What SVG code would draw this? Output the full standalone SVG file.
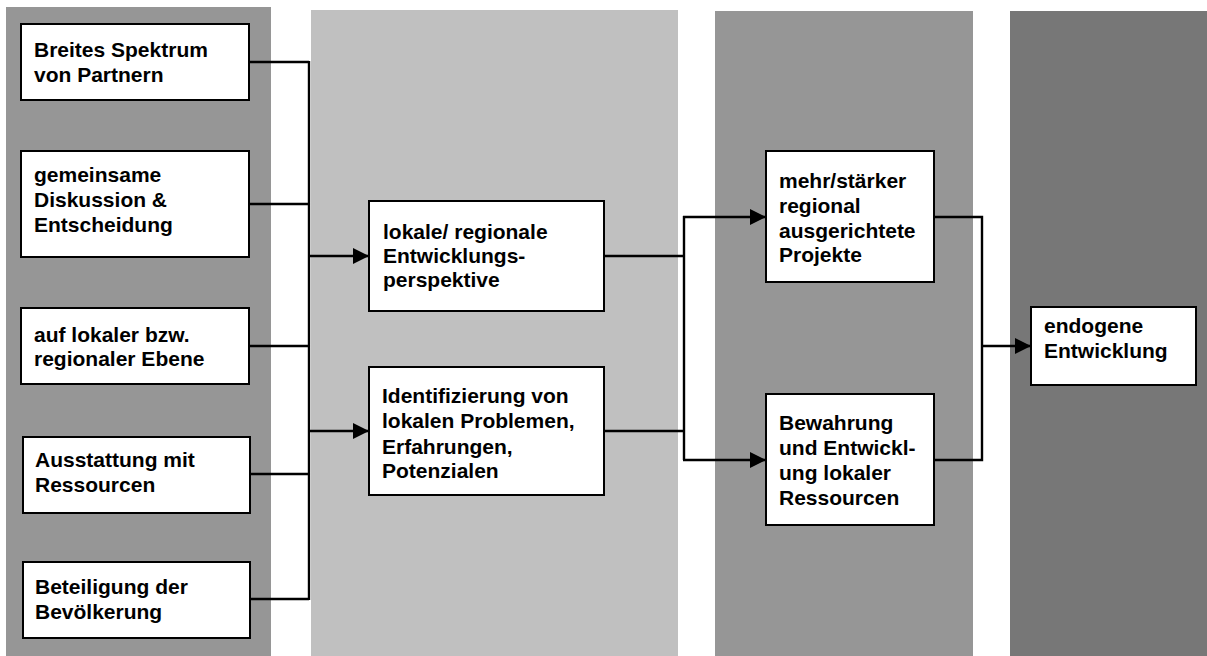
<svg xmlns="http://www.w3.org/2000/svg" width="1207" height="656" viewBox="0 0 1207 656">
  <style>
    .box { fill: #ffffff; stroke: #000000; stroke-width: 2; }
    .lbl { font-family: "Liberation Sans", Arial, sans-serif; font-weight: bold; font-size: 21px; fill: #000000; }
    .wire { fill: none; stroke: #000000; stroke-width: 2.4; }
  </style>
  <defs>
    <marker id="arrow" markerUnits="userSpaceOnUse" markerWidth="17" markerHeight="17" refX="16" refY="8" orient="auto">
      <path d="M0,0 L16,8 L0,16 Z" fill="#000000"/>
    </marker>
  </defs>

  <!-- column backgrounds -->
  <g id="columns">
    <rect x="6" y="7" width="265" height="649" fill="#969696"/>
    <rect x="311" y="10" width="367" height="646" fill="#c0c0c0"/>
    <rect x="715" y="11" width="258" height="645" fill="#969696"/>
    <rect x="1010" y="11" width="197" height="645" fill="#777777"/>
  </g>

  <!-- connectors -->
  <g id="connectors">
    <path class="wire" d="M249,62 H309 M249,204 H309 M249,346 H309 M250,474 H309 M250,599 H309 M309,61 V600"/>
    <path class="wire" d="M309,256 H369" marker-end="url(#arrow)"/>
    <path class="wire" d="M309,431 H369" marker-end="url(#arrow)"/>
    <path class="wire" d="M604,256 H684 M604,431 H684 M684,216 V460"/>
    <path class="wire" d="M683,217 H766" marker-end="url(#arrow)"/>
    <path class="wire" d="M683,460 H766" marker-end="url(#arrow)"/>
    <path class="wire" d="M934,217 H982 V460 H934"/>
    <path class="wire" d="M982,346 H1031" marker-end="url(#arrow)"/>
  </g>

  <g id="n-partner">
    <rect class="box" x="21" y="24" width="228" height="76"/>
    <text class="lbl" x="34" y="57">Breites Spektrum</text>
    <text class="lbl" x="34" y="82">von Partnern</text>
  </g>

  <g id="n-diskussion">
    <rect class="box" x="21" y="151" width="228" height="106"/>
    <text class="lbl" x="34" y="182">gemeinsame</text>
    <text class="lbl" x="34" y="207">Diskussion &amp;</text>
    <text class="lbl" x="34" y="232">Entscheidung</text>
  </g>

  <g id="n-ebene">
    <rect class="box" x="21" y="308" width="228" height="76"/>
    <text class="lbl" x="34" y="342">auf lokaler bzw.</text>
    <text class="lbl" x="34" y="366">regionaler Ebene</text>
  </g>

  <g id="n-ressourcen">
    <rect class="box" x="23" y="437" width="227" height="76"/>
    <text class="lbl" x="35" y="467">Ausstattung mit</text>
    <text class="lbl" x="35" y="492">Ressourcen</text>
  </g>

  <g id="n-beteiligung">
    <rect class="box" x="23" y="562" width="227" height="76"/>
    <text class="lbl" x="35" y="594">Beteiligung der</text>
    <text class="lbl" x="35" y="619">Bevölkerung</text>
  </g>

  <g id="n-perspektive">
    <rect class="box" x="369" y="201" width="235" height="110"/>
    <text class="lbl" x="383" y="239">lokale/ regionale</text>
    <text class="lbl" x="383" y="263">Entwicklungs-</text>
    <text class="lbl" x="383" y="287">perspektive</text>
  </g>

  <g id="n-identifizierung">
    <rect class="box" x="369" y="367" width="235" height="128"/>
    <text class="lbl" x="382" y="403">Identifizierung von</text>
    <text class="lbl" x="382" y="428">lokalen Problemen,</text>
    <text class="lbl" x="382" y="454">Erfahrungen,</text>
    <text class="lbl" x="382" y="478">Potenzialen</text>
  </g>

  <g id="n-projekte">
    <rect class="box" x="766" y="151" width="168" height="131"/>
    <text class="lbl" x="779" y="188">mehr/stärker</text>
    <text class="lbl" x="779" y="213">regional</text>
    <text class="lbl" x="779" y="238">ausgerichtete</text>
    <text class="lbl" x="779" y="262">Projekte</text>
  </g>

  <g id="n-bewahrung">
    <rect class="box" x="766" y="394" width="168" height="131"/>
    <text class="lbl" x="779" y="430">Bewahrung</text>
    <text class="lbl" x="779" y="455">und Entwickl-</text>
    <text class="lbl" x="779" y="480">ung lokaler</text>
    <text class="lbl" x="779" y="505">Ressourcen</text>
  </g>

  <g id="n-endogen">
    <rect class="box" x="1031" y="307" width="165" height="78"/>
    <text class="lbl" x="1044" y="333">endogene</text>
    <text class="lbl" x="1044" y="358">Entwicklung</text>
  </g>
</svg>
